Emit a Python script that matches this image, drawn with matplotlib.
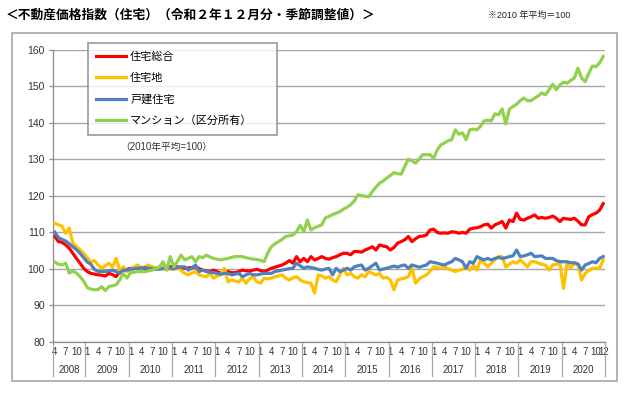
import matplotlib
matplotlib.use("Agg")
import matplotlib.pyplot as plt
from matplotlib.patches import Rectangle
from matplotlib.transforms import blended_transform_factory

plt.rcParams["font.family"] = ["Liberation Sans", "Noto Sans CJK JP", "DejaVu Sans"]

# monthly values, 2008-04 .. 2020-12
years = list(range(2008, 2021))

sogo = (
    [108.8, 107.4, 107.2, 106.5, 105.6, 104.2, 102.8, 101.5, 100.1]
    + [99.2, 98.7, 98.5, 98.3, 98.2, 98.0, 98.7, 98.4, 97.8, 99.2, 99.6, 99.8]
    + [100.1, 100.0, 100.2, 100.3, 100.0, 99.8, 100.0, 100.2, 100.0, 100.1, 100.3, 100.5]
    + [100.8, 100.5, 100.3, 100.1, 100.2, 100.3, 100.5, 100.0, 99.6, 99.4, 99.2, 99.6]
    + [99.2, 98.7, 98.9, 99.2, 98.9, 98.9, 99.2, 99.6, 99.4, 99.4, 99.6, 99.8]
    + [99.5, 99.2, 99.6, 100.1, 100.4, 100.7, 101.0, 101.5, 102.2, 101.5, 103.3, 101.9]
    + [102.8, 101.9, 103.3, 102.4, 102.8, 103.3, 102.8, 102.6, 103.0, 103.3, 103.8, 104.2]
    + [104.2, 103.8, 104.7, 104.7, 104.5, 105.1, 105.5, 106.0, 105.1, 106.5, 106.2, 106.0]
    + [105.1, 105.8, 107.0, 107.4, 107.9, 108.8, 107.4, 108.2, 108.8, 108.9, 109.2, 110.6]
    + [110.8, 109.9, 109.7, 109.8, 109.7, 110.1, 110.0, 109.7, 109.9, 109.7, 110.8, 111.1]
    + [111.2, 111.5, 112.0, 112.2, 111.1, 112.0, 112.4, 112.9, 111.1, 113.3, 112.9, 115.2]
    + [113.5, 113.3, 113.8, 114.2, 114.7, 113.8, 114.0, 113.8, 114.0, 114.4, 113.8, 112.9]
    + [113.8, 113.6, 113.5, 113.8, 113.0, 112.0, 112.0, 114.2, 114.8, 115.2, 116.0, 117.8]
)

takuchi = (
    [112.4, 112.0, 111.6, 109.7, 111.1, 107.0, 106.0, 105.2, 104.2]
    + [103.0, 101.8, 102.2, 101.0, 100.1, 100.8, 101.5, 100.5, 102.8, 99.6, 100.5, 99.2]
    + [99.8, 100.5, 101.0, 100.1, 100.5, 101.0, 100.5, 100.2, 100.1, 100.3, 100.0, 99.8]
    + [99.8, 100.3, 99.5, 98.7, 98.3, 98.8, 99.2, 98.3, 98.0, 97.8, 98.7, 97.4]
    + [98.0, 98.3, 100.1, 96.4, 96.9, 96.6, 96.4, 97.4, 96.0, 97.2, 97.8, 96.4]
    + [96.0, 97.4, 97.2, 97.4, 97.8, 98.0, 98.3, 97.4, 96.9, 97.5, 97.8, 96.9]
    + [96.4, 96.2, 96.0, 93.3, 98.3, 98.0, 97.4, 97.8, 96.9, 96.4, 98.3, 100.1]
    + [98.3, 98.7, 97.8, 97.4, 98.3, 97.8, 99.2, 98.7, 98.3, 98.7, 97.4, 97.6]
    + [96.9, 94.2, 96.9, 97.2, 97.4, 97.8, 100.1, 96.0, 97.2, 97.8, 98.3, 99.2]
    + [100.5, 100.3, 100.1, 100.5, 100.0, 99.6, 99.2, 99.6, 99.8, 100.5, 99.6, 101.0]
    + [99.6, 102.4, 101.5, 100.5, 101.5, 102.5, 103.3, 103.3, 100.5, 101.2, 101.9, 101.5]
    + [102.4, 101.5, 100.5, 101.9, 101.9, 101.5, 101.2, 101.0, 99.6, 101.0, 101.2, 101.5]
    + [94.6, 101.5, 100.1, 101.5, 101.0, 96.9, 98.7, 99.5, 100.1, 100.1, 100.1, 102.4]
)

kodate = (
    [110.0, 108.5, 108.0, 107.6, 106.8, 106.0, 105.2, 104.2, 103.0]
    + [101.8, 101.2, 99.8, 99.2, 99.2, 99.2, 99.4, 99.6, 99.2, 98.7, 99.6, 99.6]
    + [99.8, 100.0, 100.1, 100.2, 100.3, 100.1, 100.0, 99.8, 99.9, 100.0, 100.1, 100.2]
    + [100.0, 100.3, 100.5, 100.5, 99.6, 100.2, 101.0, 99.2, 99.6, 99.2, 99.0, 98.9]
    + [98.7, 98.5, 98.7, 98.7, 98.3, 98.5, 98.7, 97.8, 98.3, 98.7, 98.3, 98.3]
    + [98.5, 98.7, 98.7, 98.7, 99.2, 99.4, 99.6, 99.8, 100.0, 100.1, 101.5, 100.8]
    + [100.1, 100.5, 100.3, 100.1, 99.8, 99.6, 99.9, 100.1, 98.3, 100.1, 99.2, 99.6]
    + [100.1, 99.6, 100.5, 100.8, 101.0, 99.6, 100.1, 100.8, 101.5, 99.6, 99.9, 100.1]
    + [100.4, 100.7, 100.4, 100.8, 101.0, 100.1, 101.0, 100.7, 100.4, 100.7, 101.0, 101.9]
    + [101.7, 101.5, 101.2, 101.0, 101.5, 101.9, 102.8, 102.4, 101.9, 100.1, 101.9, 101.5]
    + [103.3, 102.8, 102.4, 102.8, 102.4, 102.8, 103.1, 102.8, 103.0, 103.3, 103.5, 105.1]
    + [103.3, 103.5, 103.8, 104.2, 103.3, 103.4, 103.5, 102.8, 102.8, 102.8, 102.2, 101.9]
    + [101.9, 101.9, 101.6, 101.6, 101.3, 99.6, 101.0, 101.4, 101.9, 101.6, 102.8, 103.3]
)

mansion = (
    [101.8, 101.2, 101.0, 101.5, 98.8, 99.3, 98.8, 97.8, 96.6]
    + [94.8, 94.4, 94.2, 94.3, 95.1, 94.0, 95.1, 95.3, 95.6, 96.9, 98.7, 97.4]
    + [98.9, 99.0, 99.2, 99.2, 99.2, 99.4, 99.6, 100.0, 100.5, 101.9, 99.6, 103.3]
    + [100.5, 102.0, 103.7, 102.4, 102.8, 103.3, 101.9, 103.3, 103.0, 103.7, 103.2, 102.8]
    + [102.6, 102.4, 102.6, 102.8, 103.1, 103.3, 103.3, 103.3, 103.0, 102.8, 102.6, 102.5]
    + [102.3, 101.9, 104.2, 106.0, 106.8, 107.4, 108.0, 108.8, 109.0, 109.2, 110.1, 111.9]
    + [110.1, 113.3, 110.6, 111.2, 111.6, 112.0, 113.9, 114.3, 114.8, 115.2, 115.6, 116.3]
    + [116.8, 117.5, 118.5, 120.2, 120.0, 119.8, 119.7, 121.1, 122.3, 123.4, 124.0, 124.8]
    + [125.5, 126.3, 126.0, 125.9, 128.0, 130.0, 129.5, 128.9, 130.0, 131.2, 131.2, 131.2]
    + [130.2, 132.5, 133.9, 134.4, 135.0, 135.3, 138.0, 136.8, 137.2, 135.3, 138.0, 138.2]
    + [138.0, 139.0, 140.5, 140.6, 140.5, 142.4, 142.1, 143.7, 139.6, 143.7, 144.4, 145.0]
    + [146.0, 146.7, 146.0, 146.0, 146.7, 147.3, 148.1, 147.6, 149.0, 150.5, 149.0, 150.3]
    + [151.0, 150.8, 151.5, 152.2, 154.9, 152.2, 151.2, 153.5, 155.5, 155.3, 156.3, 158.1]
)

series = [
    ("住宅総合", sogo, "#FF0000"),
    ("住宅地", takuchi, "#FFC000"),
    ("戸建住宅", kodate, "#4F81BD"),
    ("マンション（区分所有）", mansion, "#92D050"),
]

month_ticks = [1, 4, 7, 10]


def month_index(year, month):
    return (year - 2008) * 12 + (month - 4)


fig = plt.figure(figsize=(6.4, 3.95), dpi=100)
ax = fig.add_axes([53 / 640, 1 - 341.7 / 395, 552 / 640, 292.2 / 395])

x = list(range(len(sogo)))
for i, (name, vals, col) in enumerate(series):
    ax.plot(x, vals, color=col, lw=2.3, label=name, zorder=3 + i,
            solid_joinstyle="round")

ax.set_ylim(80, 160)
ax.set_yticks(range(80, 161, 10))
ax.set_xlim(-0.5, len(sogo) - 0.5)
ax.grid(axis="y", color="#a6a6a6", lw=1.0)
ax.set_axisbelow(True)

for s in ["top", "right"]:
    ax.spines[s].set_visible(False)
for s in ["left", "bottom"]:
    ax.spines[s].set_color("#8c8c8c")
    ax.spines[s].set_linewidth(0.9)

# month labels
pos, labs = [], []
for yr in years:
    for m in month_ticks:
        idx = month_index(yr, m)
        if idx >= 0:
            pos.append(idx)
            labs.append(str(m))
pos.append(month_index(2020, 12))
labs.append("12")
ax.set_xticks(pos)
ax.set_xticklabels(labs, fontsize=7, color="#333333")
ax.tick_params(axis="x", length=0, pad=3.5)
ax.tick_params(axis="y", length=3, color="#8c8c8c", width=0.9, labelsize=7.5,
               labelcolor="#333333", pad=3)

# year labels and separators under the axis
tr = blended_transform_factory(ax.transData, ax.transAxes)
seps = [-0.5] + [month_index(yr, 1) - 0.5 for yr in years[1:]] + [len(sogo) - 0.5]
for j, yr in enumerate(years):
    ax.text((seps[j] + seps[j + 1]) / 2, -0.097, str(yr), transform=tr,
            ha="center", va="center", fontsize=7, color="#333333")
for s in seps:
    ax.plot([s, s], [0, -0.117], transform=tr, color="#a6a6a6", lw=0.9,
            clip_on=False)

leg = ax.legend(loc="upper left",
                bbox_to_anchor=(88 / 640, 1 - 130 / 395, 189 / 640, 87 / 395),
                bbox_transform=fig.transFigure, mode="expand", fontsize=8,
                frameon=True, fancybox=False, handlelength=2.7, handletextpad=0.35,
                labelspacing=1.0, borderpad=0.75, borderaxespad=0)
leg.get_frame().set_edgecolor("#8c8c8c")
leg.get_frame().set_linewidth(1.3)
leg.set_zorder(10)

fig.text(166 / 640, 1 - 146.7 / 395, "（2010年平均=100）", ha="center", va="center",
         fontsize=7, color="#333333")

fig.text(6 / 640, 1 - 15 / 395, "＜不動産価格指数（住宅）（令和２年１２月分・季節調整値）＞",
         ha="left", va="center", fontsize=9.2, fontweight="bold",
         family=["Noto Sans CJK JP"])
fig.text(488 / 640, 1 - 15 / 395, "※2010 年平均＝100", ha="left", va="center",
         fontsize=6.5, color="#222222")

fig.add_artist(Rectangle((12 / 640, 1 - 381 / 395), 605 / 640, 348 / 395,
                         transform=fig.transFigure, fill=False,
                         ec="#a6a6a6", lw=1.2))

fig.savefig("out.png", dpi=100)
